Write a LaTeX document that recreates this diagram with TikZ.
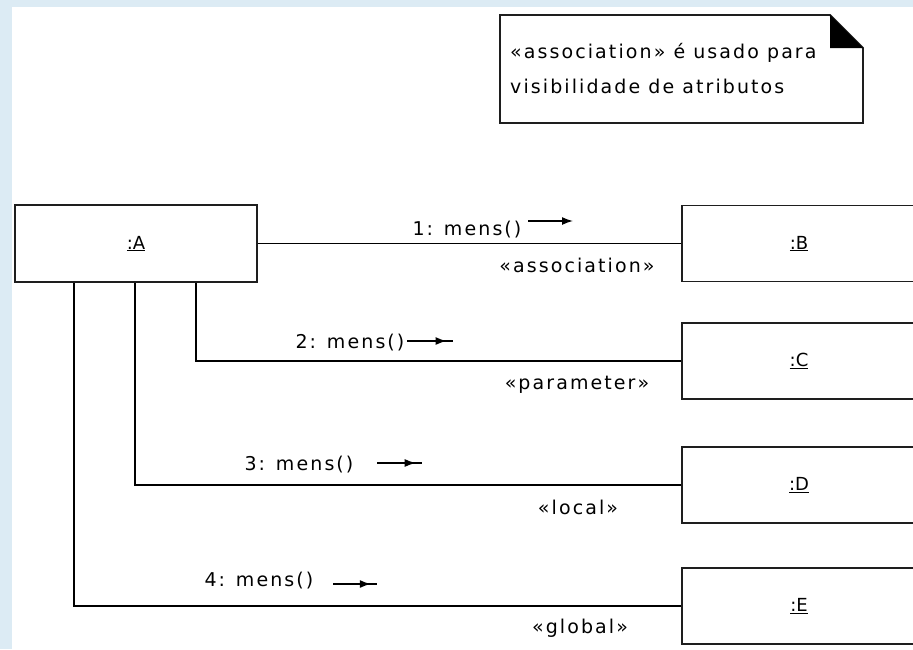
\documentclass[tikz,border=0pt]{standalone}
\usepackage{fontspec}
\setmainfont{DejaVu Sans}[LetterSpace=11]
\newfontfamily\objfont{DejaVu Sans}
\usetikzlibrary{arrows.meta,calc}
\definecolor{panelblue}{HTML}{DCEBF4}
\definecolor{edgegray}{HTML}{1E1E1E}
\begin{document}
\begin{tikzpicture}[x=1pt,y=-1pt,
  objbox/.style={draw=edgegray,line width=1.8pt,fill=white,minimum width=234pt,minimum height=76pt,inner sep=0pt,font=\objfont\fontsize{18}{18}\selectfont},
  link/.style={draw=black,line width=1.5pt},
  msg/.style={font=\fontsize{19}{19}\selectfont,inner sep=0pt},
  stereo/.style={font=\fontsize{19}{19}\selectfont,inner sep=0pt},
  notetext/.style={anchor=west,inner sep=0pt,font=\fontsize{19}{19}\selectfont},
  msgline/.style={line width=1.4pt},
  msghead/.style={-{Latex[length=11pt,width=8pt]},line width=1.4pt}]
  % frame and page
  \fill[panelblue] (0,0) rectangle (913,649);
  \fill[white] (12,7) rectangle (913,649);
  \useasboundingbox (0,0) rectangle (913,649);

  % note with folded corner
  \draw[line width=1.8pt,edgegray,fill=white] (500,15) -- (830,15) -- (863,48) -- (863,123) -- (500,123) -- cycle;
  \fill[black] (830,15) -- (863,48) -- (830,48) -- cycle;
  \node[notetext] (note1) at (510,53) {«association» é usado para};
  \node[notetext] (note2) at (510,86) {visibilidade de atributos};

  % objects
  \node[objbox,minimum width=242pt,minimum height=77pt] (A) at (136,243.5) {\underline{:A}};
  \node[objbox] (B) at (799,243.5) {\underline{:B}};
  \node[objbox] (C) at (799,361) {\underline{:C}};
  \node[objbox] (D) at (799,485) {\underline{:D}};
  \node[objbox] (E) at (799,606) {\underline{:E}};

  % links
  \draw[link] (A.east) -- (B.west);
  \draw[link] ([xshift=60pt]A.south) |- (C.west);
  \draw[link] ([xshift=-1pt]A.south) |- (D.west);
  \draw[link] ([xshift=-62pt]A.south) |- (E.west);

  % messages
  \node[msg] (m1) at (467,230) {1: mens()};
  \node[msg] (m2) at (350,343) {2: mens()};
  \node[msg] (m3) at (299,465) {3: mens()};
  \node[msg] (m4) at (259,581) {4: mens()};

  \coordinate (s1) at (528,221); \coordinate (e1) at (573,221);
  \coordinate (s2) at (407,341); \coordinate (e2) at (453,341);
  \coordinate (s3) at (377,463); \coordinate (e3) at (422,463);
  \coordinate (s4) at (333,584); \coordinate (e4) at (377,584);
  \draw[msghead] (s1) -- (e1);
  \foreach \i in {2,3,4}{
    \draw[msgline] (s\i) -- (e\i);
    \draw[msghead] (s\i) -- ($(s\i)!0.86!(e\i)$);
  }

  % stereotypes
  \node[stereo] (st1) at (577,265) {«association»};
  \node[stereo] (st2) at (577,385) {«parameter»};
  \node[stereo] (st3) at (578,507) {«local»};
  \node[stereo] (st4) at (580,628) {«global»};
\end{tikzpicture}
\end{document}
